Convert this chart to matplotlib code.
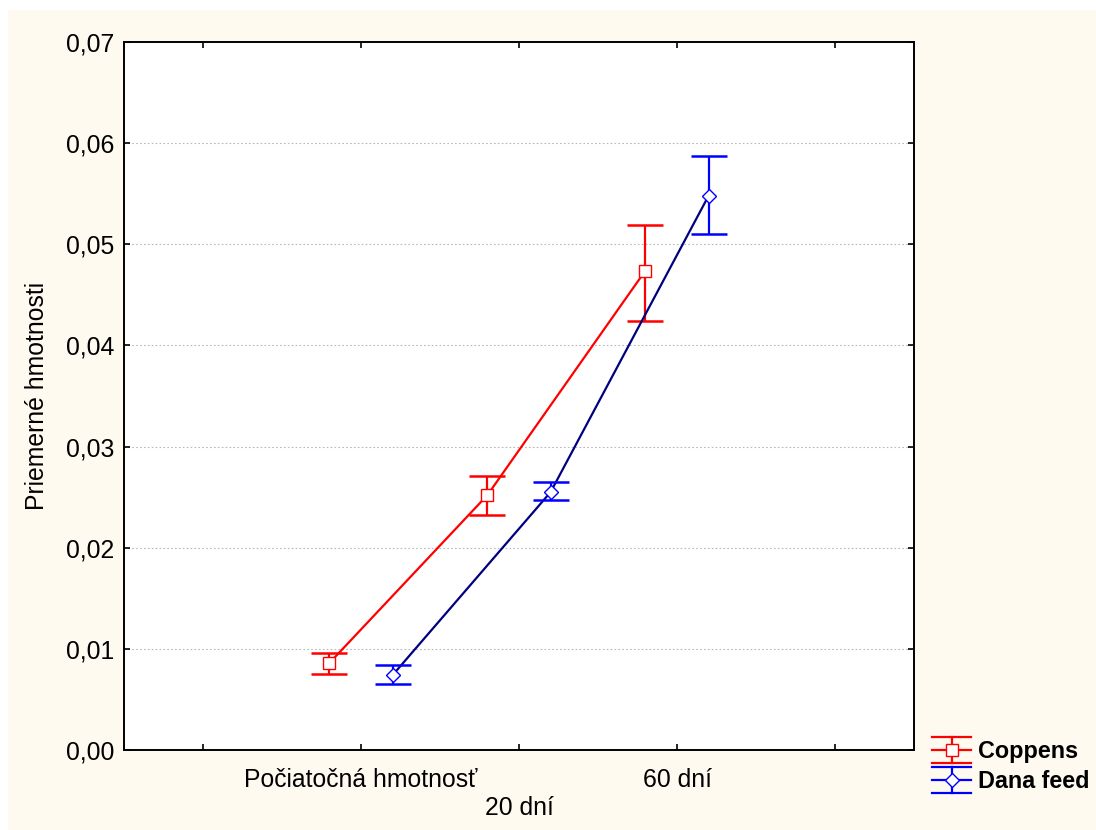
import matplotlib
matplotlib.use('Agg')
import matplotlib.pyplot as plt
from matplotlib.lines import Line2D
from matplotlib.patches import Rectangle
from matplotlib.legend_handler import HandlerBase
from matplotlib.ticker import FuncFormatter

plt.rcParams['font.family'] = ['Liberation Sans', 'DejaVu Sans']

categories = ['Počiatočná hmotnosť', '20 dní', '60 dní']

coppens_mean = [0.0086, 0.0252, 0.0474]
coppens_low = [0.0075, 0.0232, 0.0424]
coppens_high = [0.0096, 0.0271, 0.0519]

dana_mean = [0.0074, 0.0255, 0.0548]
dana_low = [0.0065, 0.0247, 0.0510]
dana_high = [0.0084, 0.0265, 0.0587]


class ErrbarHandler(HandlerBase):
    """Legend key like Statistica: three horizontal lines, a stem and a marker."""

    def __init__(self, color, marker, msize):
        super().__init__()
        self.color = color
        self.marker = marker
        self.msize = msize

    def create_artists(self, legend, orig_handle, xdescent, ydescent,
                       width, height, fontsize, trans):
        x0, x1 = -xdescent, -xdescent + width
        xm = (x0 + x1) / 2
        yc = -ydescent + height / 2
        d = height * 0.75
        arts = []
        for y in (yc - d, yc, yc + d):
            arts.append(Line2D([x0, x1], [y, y], color=self.color, lw=1.6,
                               transform=trans))
        arts.append(Line2D([xm, xm], [yc - d, yc + d], color=self.color,
                           lw=1.6, transform=trans))
        arts.append(Line2D([xm], [yc], marker=self.marker, ms=self.msize,
                           mfc='white', mec=self.color, mew=1.0,
                           transform=trans))
        return arts


fig = plt.figure(figsize=(10.96, 8.30), dpi=100)
fig.patch.set_facecolor('white')
fig.patches.append(Rectangle((8 / 1096, 0), 1, 1 - 10 / 830,
                             transform=fig.transFigure,
                             facecolor='#fffaf0', edgecolor='none', zorder=-10))

ax = fig.add_axes([124 / 1096, 1 - 750 / 830, (914 - 124) / 1096, (750 - 42) / 830])
ax.set_facecolor('white')

xs = list(range(len(categories)))
off = 0.2
xr = [x - off for x in xs]
xb = [x + off for x in xs]

c_err = [[m - l for m, l in zip(coppens_mean, coppens_low)],
         [h - m for m, h in zip(coppens_mean, coppens_high)]]
d_err = [[m - l for m, l in zip(dana_mean, dana_low)],
         [h - m for m, h in zip(dana_mean, dana_high)]]

ax.plot(xr, coppens_mean, color='#ff0000', lw=1.6, zorder=3)
ax.errorbar(xr, coppens_mean, yerr=c_err, fmt='none', ecolor='#ff0000',
            elinewidth=1.6, capsize=13, capthick=1.8, zorder=3)
ax.plot(xr, coppens_mean, ls='none', marker='s', ms=8.5, mfc='white',
        mec='#ff0000', mew=1.0, zorder=4)

ax.plot(xb, dana_mean, color='#000080', lw=1.6, zorder=3)
ax.errorbar(xb, dana_mean, yerr=d_err, fmt='none', ecolor='#0000ff',
            elinewidth=1.6, capsize=13, capthick=1.8, zorder=3)
ax.plot(xb, dana_mean, ls='none', marker='D', ms=7.5, mfc='white',
        mec='#0000ff', mew=1.0, zorder=4)

ax.set_xlim(-1.5, 3.5)
ax.set_ylim(0, 0.07)
ax.set_xticks([-1, 0, 1, 2, 3])
labels = ['', categories[0], '\n' + categories[1], categories[2], '']
ax.set_xticklabels(labels)
ax.set_yticks([0, 0.01, 0.02, 0.03, 0.04, 0.05, 0.06, 0.07])
ax.yaxis.set_major_formatter(FuncFormatter(lambda v, p: ('%.2f' % v).replace('.', ',')))
ax.tick_params(direction='in', length=4, width=1.2, top=True, right=True,
               labelsize=17.8, colors='black', pad=7)
ax.tick_params(axis='x', pad=13)
for s in ax.spines.values():
    s.set_linewidth(1.4)
    s.set_color('black')

ax.yaxis.grid(True, ls=(0, (1.5, 2)), color='#b8b8b8', lw=0.8)
ax.set_axisbelow(True)
ax.set_ylabel('Priemerné hmotnosti', fontsize=17.8, labelpad=12)

h1 = Line2D([], [], color='red')
h2 = Line2D([], [], color='blue')
leg = fig.legend([h1, h2], ['Coppens', 'Dana feed'],
                 handler_map={h1: ErrbarHandler('#ff0000', 's', 8),
                              h2: ErrbarHandler('#0000ff', 'D', 7.5)},
                 loc='upper left', bbox_to_anchor=(916 / 1096, 1 - 724 / 830),
                 frameon=False, handlelength=1.65, handleheight=0.75,
                 handletextpad=0.3, labelspacing=0.3, borderpad=0.2,
                 prop={'weight': 'bold', 'size': 16.8})

fig.savefig('out.png', dpi=100, facecolor=fig.get_facecolor())
